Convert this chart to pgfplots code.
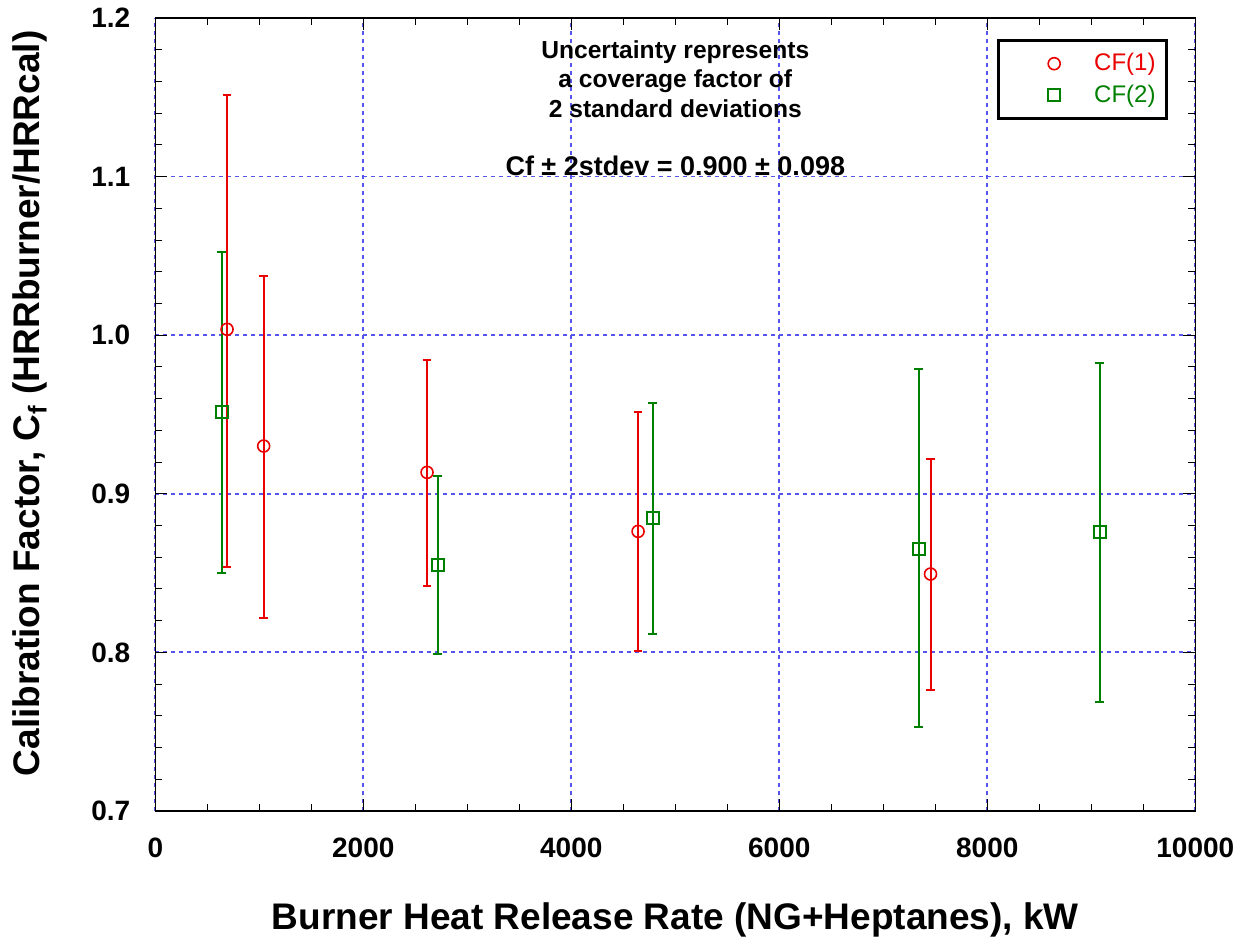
\documentclass[border=0pt]{standalone}
\usepackage{fontspec}
\setmainfont{Liberation Sans}
\usepackage{pgfplots}
\usepackage{pgfplotstable}
\pgfplotsset{compat=1.18}

\definecolor{cfred}{RGB}{235,0,0}
\definecolor{cfgreen}{RGB}{0,128,0}
\definecolor{gridblue}{RGB}{85,85,235}

% x, value, +err, -err
\pgfplotstableread{
x     y       ep      em
690   1.0037  0.1479  0.1497
1042  0.9301  0.1072  0.1084
2613  0.9135  0.0709  0.0716
4642  0.8763  0.0753  0.0754
7454  0.8494  0.0727  0.0731
}\cfone
\pgfplotstableread{
x     y       ep      em
638   0.9516  0.1009  0.1014
2716  0.8549  0.0565  0.0561
4783  0.8847  0.0723  0.0729
7339  0.8654  0.1131  0.1122
9081  0.8759  0.1066  0.1070
}\cftwo

\begin{document}
\begin{tikzpicture}
\begin{axis}[
  name=ax, scale only axis, width=520pt, height=396.5pt,
  xmin=0, xmax=10000, ymin=0.7, ymax=1.2,
  xtick={0,2000,4000,6000,8000,10000},
  ytick={0.7,0.8,0.9,1.0,1.1,1.2},
  minor x tick num=3, minor y tick num=4,
  scaled x ticks=false,
  tick pos=both, tick align=inside,
  major tick length=6pt, minor tick length=3.5pt,
  tick style={black, line width=0.5pt},
  axis line style={black, line width=0.7pt},
  grid=major,
  major grid style={gridblue, dash pattern=on 2pt off 2pt, line width=0.9pt},
  /pgf/number format/assume math mode=true,
  xticklabel style={/pgf/number format/1000 sep={}, yshift=-10pt},
  yticklabel style={/pgf/number format/fixed, /pgf/number format/fixed zerofill,
    /pgf/number format/precision=1, xshift=-9pt},
  tick label style={font=\bfseries\fontsize{14}{16}\selectfont},
  xlabel={Burner Heat Release Rate (NG+Heptanes), kW},
  ylabel={Calibration Factor, C\textsubscript{f} (HRRburner/HRRcal)},
  xlabel style={font=\bfseries\fontsize{18.5}{21}\selectfont, at={(axis description cs:0.5,0)}, anchor=center, yshift=-54.5pt},
  ylabel style={font=\bfseries\fontsize{18.5}{21}\selectfont, at={(axis description cs:0,0.514)}, anchor=center, yshift=62.5pt},
  legend style={at={(rel axis cs:0.809,0.9735)}, anchor=north west, draw=black, line width=1.5pt,
    font=\fontsize{12}{14}\selectfont, inner xsep=3.5pt, inner ysep=4.5pt, row sep=1.5pt},
  legend image code/.code={%
    \path (-24pt,0pt) (17.5pt,0pt);
    \draw[#1, only marks] plot coordinates {(0pt,0pt)};},
  legend cell align=left,
  clip=false,
]
\addplot[only marks, mark=o, mark size=3pt, color=cfred, line width=0.8pt,
  error bars/.cd, y dir=both, y explicit,
  error bar style={color=cfred, line width=1pt},
  error mark options={rotate=90, mark size=2.2pt, line width=1pt, color=cfred}]
  table[x=x, y=y, y error plus=ep, y error minus=em] {\cfone};
\addlegendentry[text=cfred]{CF(1)}
\addplot[only marks, mark=square, mark size=3pt, color=cfgreen, line width=1pt,
  error bars/.cd, y dir=both, y explicit,
  error bar style={color=cfgreen, line width=1pt},
  error mark options={rotate=90, mark size=2.2pt, line width=1pt, color=cfgreen}]
  table[x=x, y=y, y error plus=ep, y error minus=em] {\cftwo};
\addlegendentry[text=cfgreen]{CF(2)}

\node[font=\bfseries\fontsize{12.3}{14.75}\selectfont, align=center] at (axis cs:5000,1.1615)
  {Uncertainty represents\\a coverage factor of\\2 standard deviations};
\node[font=\bfseries\fontsize{13.5}{15}\selectfont] at (axis cs:5000,1.107)
  {Cf ± 2stdev = 0.900 ± 0.098};
\end{axis}
\pgfresetboundingbox
\path[use as bounding box] (ax.south west) ++(-77.65pt,-64.5pt) rectangle ++(623pt,470pt);
\end{tikzpicture}
\end{document}
